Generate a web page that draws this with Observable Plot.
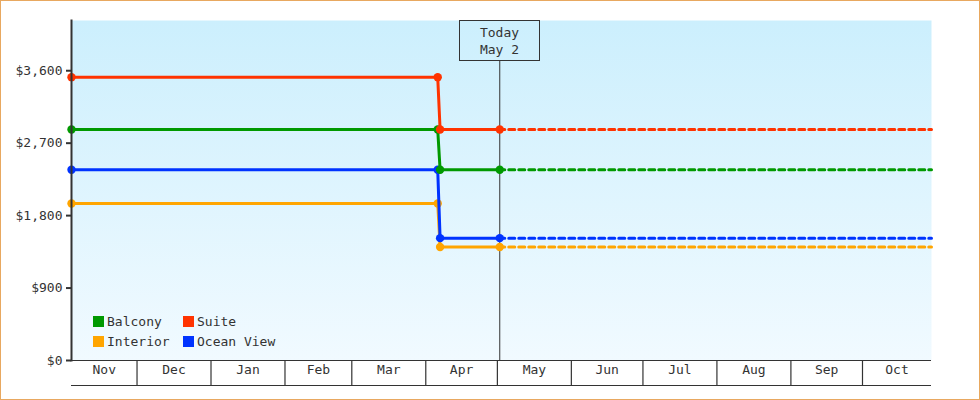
<!DOCTYPE html>
<html><head><meta charset="utf-8">
<script src="https://cdn.jsdelivr.net/npm/d3@7"></script>
<script src="https://cdn.jsdelivr.net/npm/@observablehq/plot@0.6"></script>
<style>
body{margin:0;background:#fff;}
#wrap{position:relative;width:980px;height:400px;overflow:hidden;}
#border{position:absolute;left:0;top:0;width:980px;height:400px;box-sizing:border-box;border:1px solid #e8a860;pointer-events:none;}
#legend{position:absolute;left:93px;top:313px;font:13px "DejaVu Sans Mono",monospace;color:#333;display:grid;grid-template-columns:90px 120px;row-gap:4px;}
#legend .it{display:flex;align-items:center;height:16px;}
#legend .sw{width:11px;height:11px;margin-right:3px;}
</style></head>
<body><div id="wrap"><div id="chart"></div><div id="legend"></div><div id="border"></div></div>
<script>
const series = ["Balcony", "Suite", "Interior", "Ocean View"];
const seriesColors = ["#009900", "#ff3300", "#ffa500", "#0033ff"];
const drawOrder = ["Interior", "Ocean View", "Balcony", "Suite"];
const priceBefore = [2870, 3520, 1950, 2370];
const priceAfter = [2370, 2870, 1410, 1520];
const periodStart = "2024-11-03T13:00Z";
const dropStart = "2025-04-06T00:00Z";
const dropEnd = "2025-04-07T00:00Z";
const today = "2025-05-02T00:00Z";
const periodEnd = "2025-10-29T22:00Z";
const monthLabels = ["Nov","Dec","Jan","Feb","Mar","Apr","May","Jun","Jul","Aug","Sep","Oct"];
const yTicks = [0, 900, 1800, 2700, 3600];
const yMax = 4224;

const D = s => new Date(s);
const ns = "http://www.w3.org/2000/svg";
const x0 = D(periodStart), x1 = D(periodEnd);

const solid = [], dashed = [], dots = [];
series.forEach((s, i) => {
  const pts = [[periodStart, priceBefore[i]], [dropStart, priceBefore[i]], [dropEnd, priceAfter[i]], [today, priceAfter[i]]];
  pts.forEach(([d, v]) => { solid.push({series: s, date: D(d), price: v}); dots.push({series: s, date: D(d), price: v}); });
  dashed.push({series: s, date: D(today), price: priceAfter[i]}, {series: s, date: x1, price: priceAfter[i]});
});

const monthStarts = d3.utcMonth.range(d3.utcMonth.floor(x0), x1);
const months = monthStarts.map((m, i) => {
  const lo = Math.max(+m, +x0), hi = Math.min(+d3.utcMonth.offset(m, 1), +x1);
  return {date: new Date((lo + hi) / 2), label: monthLabels[i]};
});
const boundaries = d3.utcMonth.range(d3.utcMonth.ceil(x0), x1);

const bgDefs = (index, scales, values, dims) => {
  const defs = document.createElementNS(ns, "defs");
  defs.innerHTML = `<linearGradient id="bg" gradientUnits="userSpaceOnUse" x1="0" y1="${dims.marginTop}" x2="0" y2="${dims.height - dims.marginBottom}"><stop offset="0" stop-color="#cceffd"/><stop offset="1" stop-color="#f1faff"/></linearGradient>`;
  return defs;
};

const todayBox = (index, {x}, values, dims) => {
  const g = document.createElementNS(ns, "g");
  const cx = Math.round(x(D(today))) + 0.5;
  const top = dims.marginTop + 0.5;
  const label = d3.utcFormat("%b %-d")(D(today));
  g.innerHTML = `<rect x="${cx - 40}" y="${top}" width="80" height="40" fill="url(#bg)" stroke="#333"/>` +
    `<text x="${cx}" y="${top + 12}" text-anchor="middle" dominant-baseline="central" fill="#333">Today</text>` +
    `<text x="${cx}" y="${top + 29}" text-anchor="middle" dominant-baseline="central" fill="#333">${label}</text>`;
  return g;
};

const seriesMarks = drawOrder.flatMap(s => [
  Plot.line(solid.filter(d => d.series === s), {x: "date", y: "price", stroke: "series", strokeWidth: 3}),
  Plot.line(dashed.filter(d => d.series === s), {x: "date", y: "price", stroke: "series", strokeWidth: 3, strokeDasharray: "6,4", strokeDashoffset: 1}),
  Plot.dot(dots.filter(d => d.series === s), {x: "date", y: "price", fill: "series", r: 4.2})
]);

const chart = Plot.plot({
  width: 980, height: 400,
  marginLeft: 71, marginRight: 49, marginTop: 20, marginBottom: 40,
  style: {background: "transparent", fontFamily: "'DejaVu Sans Mono', monospace", fontSize: "13px", color: "#333"},
  x: {type: "utc", domain: [x0, x1], axis: null},
  y: {domain: [0, yMax], axis: null},
  color: {domain: series, range: seriesColors},
  marks: [
    bgDefs,
    Plot.frame({fill: "url(#bg)", stroke: "none"}),
    Plot.ruleX([D(today)], {stroke: "#333", strokeWidth: 1}),
    todayBox,
    ...seriesMarks,
    Plot.axisY(yTicks, {tickFormat: d => "$" + d3.format(",")(d), tickSize: 5, tickPadding: 4, stroke: "#333", strokeWidth: 2, fill: "#333", label: null}),
    Plot.frame({anchor: "left", stroke: "#333", strokeWidth: 2}),
    Plot.ruleY([0], {stroke: "#333", strokeWidth: 1.2}),
    Plot.ruleY([0], {stroke: "#333", strokeWidth: 1.2, dy: 25}),
    Plot.axisX(boundaries, {tickSize: 25, tickFormat: () => "", stroke: "#333", strokeWidth: 1.2, label: null}),
    Plot.text(months, {x: "date", text: "label", frameAnchor: "bottom", dy: 13, fill: "#333"})
  ]
});
document.getElementById("chart").appendChild(chart);

const legend = document.getElementById("legend");
series.forEach((s, i) => {
  const it = document.createElement("div");
  it.className = "it";
  it.innerHTML = `<span class="sw" style="background:${seriesColors[i]}"></span><span>${s}</span>`;
  legend.appendChild(it);
});
</script>
</body></html>
